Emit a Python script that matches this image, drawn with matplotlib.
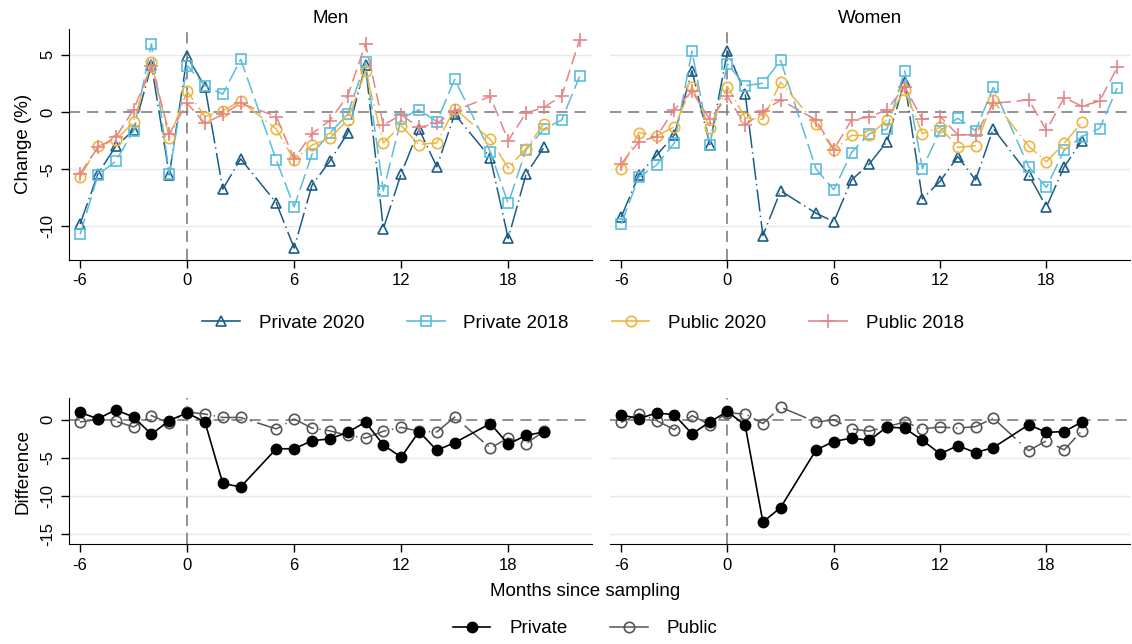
import numpy as np
import matplotlib.pyplot as plt
from matplotlib.lines import Line2D

plt.rcParams['font.family'] = ['Liberation Sans', 'DejaVu Sans']
plt.rcParams['lines.scale_dashes'] = False

nan = np.nan

# months with data (no observations at 4 and 16)
months = [-6, -5, -4, -3, -2, -1, 0, 1, 2, 3, 5, 6, 7, 8, 9, 10, 11, 12, 13, 14, 15, 17, 18, 19, 20, 21, 22]
months_d = months[:-2]

# change (%) - men
priv20_m = [-9.8, -5.4, -3.0, -1.6, 4.1, -5.5, 4.85, 2.2, -6.75, -4.1,
            -7.95, -11.9, -6.4, -4.3, -1.85, 4.1, -10.2, -5.4, -1.5, -4.8, -0.2,
            -4.0, -11.05, -5.45, -3.1, nan, nan]
priv18_m = [-10.7, -5.5, -4.3, -1.65, 5.95, -5.45, 4.05, 2.3, 1.55, 4.6,
            -4.2, -8.3, -3.7, -1.85, -0.2, 4.35, -6.9, -0.6, 0.2, -0.85, 2.85,
            -3.5, -8.0, -3.3, -1.5, -0.7, 3.1]
pub20_m = [-5.7, -3.0, -2.45, -0.9, 4.4, -2.3, 1.8, -0.4, 0.1, 0.95,
           -1.5, -4.2, -2.9, -2.3, -0.7, 3.6, -2.7, -1.2, -2.85, -2.7, 0.3,
           -2.4, -4.9, -3.2, -1.05, nan, nan]
pub18_m = [-5.4, -3.1, -2.2, 0.2, 4.0, -1.9, 0.75, -1.0, -0.2, 0.75,
           -0.4, -4.1, -1.9, -0.75, 1.4, 5.95, -1.15, -0.25, -1.35, -1.0, 0.1,
           1.35, -2.5, -0.1, 0.4, 1.4, 6.3]

# change (%) - women
priv20_w = [-9.2, -5.5, -3.8, -2.0, 3.6, -2.85, 5.3, 1.6, -10.8, -6.9,
            -8.85, -9.6, -5.95, -4.55, -2.6, 2.65, -7.6, -6.05, -3.9, -5.95, -1.45,
            -5.5, -8.3, -4.8, -2.5, nan, nan]
priv18_w = [-9.8, -5.7, -4.65, -2.7, 5.3, -2.85, 4.2, 2.3, 2.5, 4.5,
            -5.0, -6.8, -3.55, -1.9, -1.5, 3.6, -4.95, -1.65, -0.55, -1.65, 2.15,
            -4.8, -6.6, -3.35, -2.15, -1.45, 2.1]
pub20_w = [-5.0, -1.8, -2.1, -1.3, 2.2, -1.4, 2.2, -0.5, -0.65, 2.6,
           -1.05, -3.35, -2.05, -2.05, -0.7, 1.9, -1.9, -1.35, -3.1, -2.95, 1.0,
           -3.0, -4.35, -2.75, -0.9, nan, nan]
pub18_w = [-4.55, -2.6, -2.15, 0.2, 1.8, -0.65, 1.35, -1.15, 0.05, 1.05,
           -0.7, -3.3, -0.7, -0.45, 0.2, 2.2, -0.65, -0.4, -2.0, -2.0, 0.75,
           1.05, -1.6, 1.25, 0.5, 0.95, 3.9]

# difference 2020 vs 2018
diff_priv_m = [0.96, 0.13, 1.3, 0.35, -1.9, -0.1, 0.9, -0.3, -8.35, -8.8,
               -3.8, -3.8, -2.75, -2.5, -1.65, -0.3, -3.3, -4.9, -1.55, -4.0, -3.0,
               -0.5, -3.2, -2.05, -1.6]
diff_pub_m = [-0.3, 0.05, -0.2, -0.95, 0.55, -0.45, 1.0, 0.75, 0.3, 0.3,
              -1.2, 0.1, -1.1, -1.45, -2.05, -2.4, -1.5, -1.0, -1.5, -1.6, 0.35,
              -3.7, -2.4, -3.15, -1.5]
diff_priv_w = [0.65, 0.13, 0.9, 0.65, -1.85, -0.3, 1.1, -0.75, -13.4, -11.5,
               -3.95, -2.85, -2.4, -2.7, -0.95, -1.1, -2.7, -4.45, -3.4, -4.3, -3.65,
               -0.65, -1.65, -1.55, -0.3]
diff_pub_w = [-0.35, 0.8, -0.1, -1.3, 0.55, -0.65, 0.9, 0.75, -0.5, 1.65,
              -0.3, 0.0, -1.2, -1.5, -0.9, -0.3, -1.2, -0.95, -1.1, -0.9, 0.2,
              -4.05, -2.75, -3.95, -1.45]

xticks = [-6, 0, 6, 12, 18]

top_series = [
    ('Private 2020', '#1b5d85', '^', (16, 3, 1, 3)),
    ('Private 2018', '#5bbcdc', 's', (12, 4)),
    ('Public 2020', '#efb53f', 'o', (14, 3, 1, 3)),
    ('Public 2018', '#e58488', '+', (9, 4)),
]

fig = plt.figure(figsize=(11.32, 6.44), dpi=100)

ax_tl = fig.add_axes([0.061, 0.597, 0.462, 0.358])
ax_tr = fig.add_axes([0.539, 0.597, 0.459, 0.358])
ax_bl = fig.add_axes([0.061, 0.155, 0.462, 0.227])
ax_br = fig.add_axes([0.539, 0.155, 0.459, 0.227])


def style_axis(ax, yticks, ylim, left):
    ax.set_xlim(-6.62, 22.7)
    ax.set_ylim(*ylim)
    for y in yticks:
        if y != 0:
            ax.axhline(y, color='#e8e8e8', lw=1.0, zorder=0)
    ax.axhline(0, color='#7f7f7f', lw=1.2, dashes=(8, 5), zorder=1)
    ax.axvline(0, color='#7f7f7f', lw=1.2, dashes=(8, 5), zorder=1)
    ax.set_xticks(xticks)
    ax.set_xticklabels([str(t) for t in xticks])
    ax.spines['top'].set_visible(False)
    ax.spines['right'].set_visible(False)
    ax.tick_params(axis='x', length=6, width=1, labelsize=12, pad=4)
    if left:
        ax.set_yticks(yticks)
        ax.set_yticklabels([str(t) for t in yticks], rotation=90, va='center')
        ax.tick_params(axis='y', length=6, width=1, labelsize=12, pad=4)
    else:
        ax.spines['left'].set_visible(False)
        ax.set_yticks([])


for ax, data, title, left in [
        (ax_tl, [priv20_m, priv18_m, pub20_m, pub18_m], 'Men', True),
        (ax_tr, [priv20_w, priv18_w, pub20_w, pub18_w], 'Women', False)]:
    style_axis(ax, [5, 0, -5, -10], (-12.9, 7.25), left)
    for (label, color, marker, dash), vals in zip(top_series, data):
        v = np.array(vals, dtype=float)
        ok = ~np.isnan(v)
        x = np.array(months)[ok]
        ax.plot(x, v[ok], color=color, lw=1.1, dashes=dash, marker=marker,
                markersize=7.5 if marker != '+' else 9.5, markerfacecolor='none',
                markeredgecolor=color, markeredgewidth=1.2, zorder=3)
    ax.set_title(title, fontsize=13.5, pad=4)

ax_tl.set_ylabel('Change (%)', fontsize=13.5, labelpad=6)

for ax, priv, pub, left in [(ax_bl, diff_priv_m, diff_pub_m, True),
                            (ax_br, diff_priv_w, diff_pub_w, False)]:
    style_axis(ax, [0, -5, -10, -15], (-16.3, 2.85), left)
    ax.plot(months_d, pub, color='#555555', lw=1.1, dashes=(18, 4, 1, 4),
            marker='o', markersize=7.5, markerfacecolor='none',
            markeredgecolor='#555555', markeredgewidth=1.2, zorder=3)
    ax.plot(months_d, priv, color='black', lw=1.2, marker='o', markersize=7.5,
            markerfacecolor='black', markeredgecolor='black', zorder=4)

ax_bl.set_ylabel('Difference', fontsize=13.5, labelpad=6)
fig.text(0.517, 0.081, 'Months since sampling', ha='center', va='center', fontsize=13.5)

top_handles = [Line2D([], [], color=c, lw=1.2, marker=m,
                      markersize=7.5 if m != '+' else 9.5, markerfacecolor='none',
                      markeredgecolor=c, markeredgewidth=1.2)
               for _, c, m, _ in top_series]
fig.legend(top_handles, [s[0] for s in top_series], loc='center',
           bbox_to_anchor=(0.515, 0.498), ncol=4, frameon=False, fontsize=13.5,
           handlelength=2.0, handletextpad=1.0, columnspacing=2.3, numpoints=1)

bot_handles = [Line2D([], [], color='black', lw=1.2, marker='o', markersize=7.5,
                      markerfacecolor='black'),
               Line2D([], [], color='#555555', lw=1.1, marker='o', markersize=7.5,
                      markerfacecolor='none', markeredgewidth=1.2)]
fig.legend(bot_handles, ['Private', 'Public'], loc='center',
           bbox_to_anchor=(0.517, 0.024), ncol=2, frameon=False, fontsize=13.5,
           handlelength=2.0, handletextpad=1.0, columnspacing=2.3, numpoints=1)

fig.savefig('out.png', dpi=100, facecolor='white')
